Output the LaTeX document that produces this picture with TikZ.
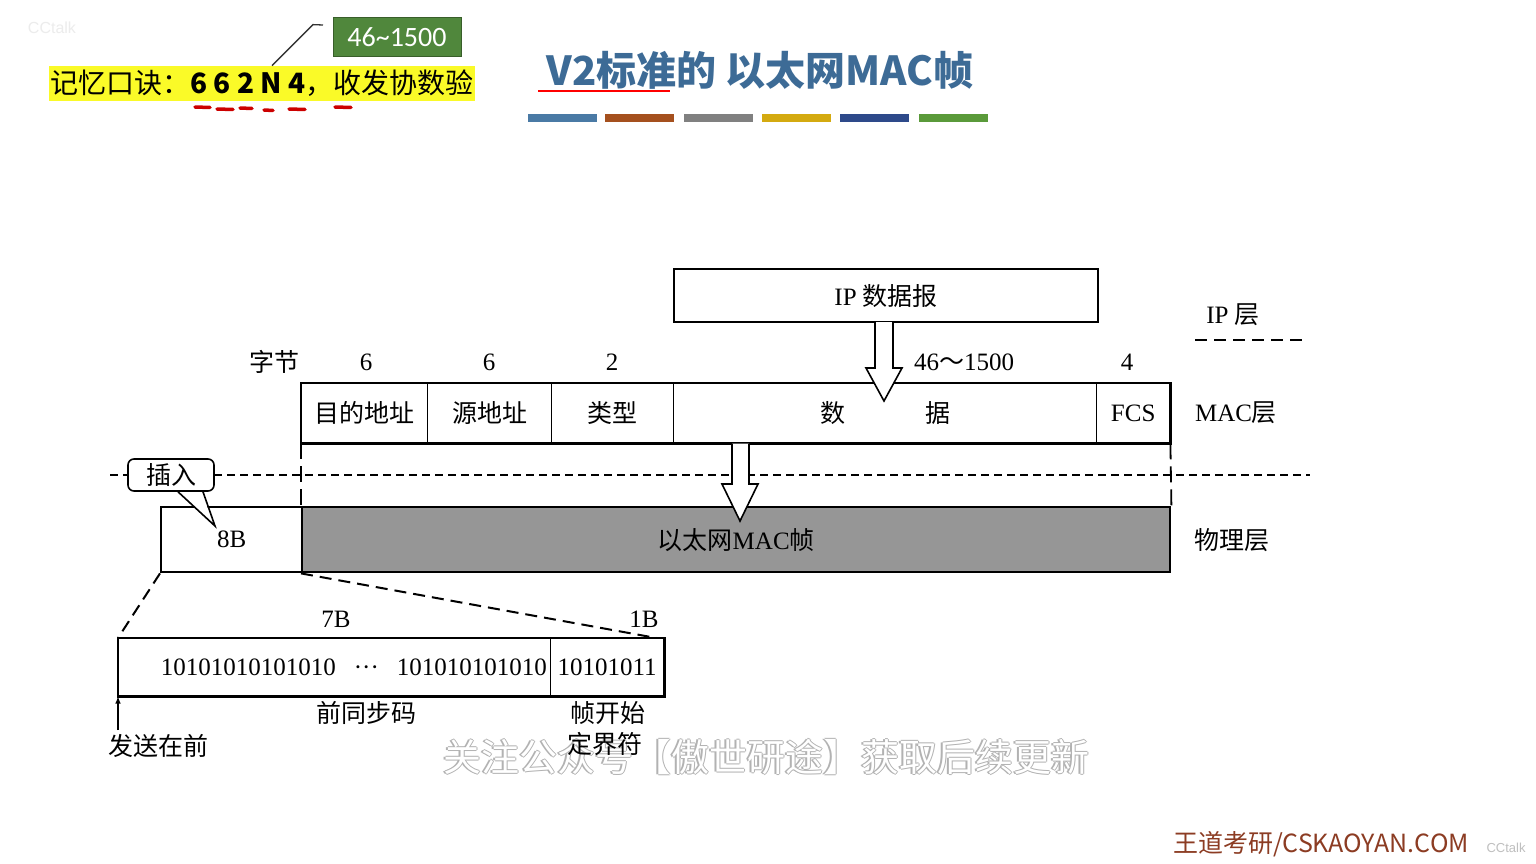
\documentclass[tikz,border=0pt]{standalone}
\usepackage{fontspec}
\setmainfont{Liberation Serif}
\setsansfont{Liberation Sans}
\newfontfamily\cjk{Noto Sans CJK SC}
\newfontfamily\calib{Carlito}
\usepackage{tikz}
\usetikzlibrary{arrows}
\usepackage{xcolor}
\tikzset{every picture/.style={line width=0.75pt}}

\definecolor{hiyellow}{RGB}{250,250,40}
\definecolor{boxgreen}{RGB}{80,135,60}
\definecolor{titleblue}{RGB}{61,107,150}
\definecolor{barA}{RGB}{74,122,165}
\definecolor{barB}{RGB}{165,80,30}
\definecolor{barC}{RGB}{128,128,128}
\definecolor{barD}{RGB}{212,170,16}
\definecolor{barE}{RGB}{46,74,138}
\definecolor{barF}{RGB}{90,154,58}
\definecolor{framegray}{RGB}{150,150,150}
\definecolor{footbrown}{RGB}{140,60,35}
\newcommand{\fsz}[1]{\fontsize{#1}{#1}\selectfont}

\begin{document}
\begin{tikzpicture}[x=1pt,y=1pt,yscale=-1,xscale=1,font=\fsz{25},inner sep=0.75pt,
  cell/.style={draw, line width=1.4pt, anchor=north west, inner sep=0pt},
  hollow/.style={draw, fill=white, line width=1.6pt, line join=miter},
  layerdash/.style={line width=2pt, dash pattern={on 8pt off 5pt}},
  guide/.style={line width=1.8pt, dash pattern={on 16pt off 7pt}},
  zoomline/.style={line width=2pt, dash pattern={on 12pt off 7pt}},
  squig/.style={red!80!black, line width=3.5pt, line cap=round},
  wm/.style={font=\cjk\fsz{38}}]
\useasboundingbox (0,0) rectangle (1536,864);
\fill[white] (0,0) rectangle (1536,864);

% Text Node
\node[font=\sffamily\fsz{16}, text=gray!15] (cctop) at (52,28) {CCtalk};
% Text Node
\node[fill=hiyellow, inner xsep=1pt, inner ysep=0pt, minimum height=35, font=\cjk\fsz{28}] (mnem) at (262,83.5) {记忆口诀：{\bfseries 6 6 2 N 4}，收发协数验};
% Text Node
\node[fill=boxgreen, draw=boxgreen!70!black, line width=1pt, minimum width=128, minimum height=39, text=white, font=\calib\fsz{28}] (range) at (397,37.5) {46\textasciitilde1500};
%Straight Lines
\coordinate (ldr) at (323,25);
\draw[line width=1.3pt, black!80] ([xshift=10pt]mnem.north) -- ++(41,-41) -- (ldr);
%Red marks
\draw[squig] (195,107) -- (210,107.5);
\draw[squig] (217,109) -- (233,109.5);
\draw[squig] (240,108) -- (252,108.5);
\draw[squig] (264,110) -- (273,110.5);
\draw[squig] (289,109) -- (305,109.5);
\draw[squig] (335,107) -- (351,107.5);

% Title
\node[font=\cjk\bfseries\fsz{40}, text=titleblue] (title) at (760,70) {V2标准的 以太网MAC帧};
\draw[red, line width=2pt] (538,91) -- (670,91);
% Colour bars
\fill[barA] (528,114) rectangle (597,122);
\fill[barB] (605,114) rectangle (674,122);
\fill[barC] (684,114) rectangle (753,122);
\fill[barD] (762,114) rectangle (831,122);
\fill[barE] (840,114) rectangle (909,122);
\fill[barF] (919,114) rectangle (988,122);

% Watermark
\node[wm, text=gray!60] (wm1) at (764.7,757) {关注公众号【傲世研途】获取后续更新};
\node[wm, text=gray!60] (wm2) at (767.3,757) {关注公众号【傲世研途】获取后续更新};
\node[wm, text=gray!60] (wm3) at (766,755.7) {关注公众号【傲世研途】获取后续更新};
\node[wm, text=gray!60] (wm4) at (766,758.3) {关注公众号【傲世研途】获取后续更新};
\node[wm, text=white] (wm5) at (766,757) {关注公众号【傲世研途】获取后续更新};

% IP datagram
\node[cell, line width=2.4pt, minimum width=424, minimum height=53] (ipdg) at (673,268) {IP {\cjk 数据报}};

% MAC frame fields
\node[cell, minimum width=126, minimum height=59] (fdst) at (301,383) {\cjk 目的地址};
\node[cell, minimum width=124, minimum height=59] (fsrc) at (427,383) {\cjk 源地址};
\node[cell, minimum width=122, minimum height=59] (ftype) at (551,383) {\cjk 类型};
\node[cell, minimum width=423, minimum height=59] (fdata) at (673,383) {\cjk 数\hspace{80pt}据};
\node[cell, minimum width=73, minimum height=59] (ffcs) at (1096,383) {FCS};
\draw[line width=2.4pt] (fdst.north west) rectangle (ffcs.south east);

% Text Node
\node (bytes) at (274,362) {\cjk 字节};
\node (ndst) at (366,362) {6};
\node (nsrc) at (489,362) {6};
\node (ntype) at (612,362) {2};
\node (ndata) at (964,362) {46{\cjk ～}1500};
\node (nfcs) at (1127,362) {4};

% Layer names
\node (lip) at (1233,315) {IP {\cjk 层}};
\draw[line width=2.2pt, dash pattern={on 12pt off 7pt}] (1195,340) -- (1302,340);
\node (lmac) at (1236,413) {MAC{\cjk 层}};
\node (lphy) at (1232,540) {\cjk 物理层};

% hollow arrow down to data
\filldraw[hollow] (875,322) -- (875,368) -- (866,368) -- (884,401) -- (902,368) -- (893,368) -- (893,322);

% physical layer
\draw[layerdash] (110,475) -- (1310,475);
\node[cell, line width=2.4pt, minimum width=141, minimum height=65] (pre8) at (160,506) {8B};
\node[cell, line width=2.4pt, minimum width=868, minimum height=65, fill=framegray] (macfr) at (301,506) {{\cjk 以太网}MAC{\cjk 帧}};
\draw[guide] (fdst.south west) -- (macfr.north west);
\draw[guide] (ffcs.south east) -- (macfr.north east);

% hollow arrow down to frame
\filldraw[hollow] (732,443.5) -- (732,484) -- (722,484) -- (740,521) -- (758,484) -- (749,484) -- (749,443.5);

% callout
\node[draw, line width=1.6pt, rounded corners=6pt, fill=white, minimum width=86, minimum height=32, inner sep=0pt] (ins) at (171,475) {\cjk 插入};
\coordinate (instip) at (215,526);
\fill[white] ([xshift=8pt,yshift=1.5pt]ins.south) -- (instip) -- ([xshift=31pt,yshift=1.5pt]ins.south) -- cycle;
\draw[line width=1.6pt, line join=miter] ([xshift=7pt]ins.south) -- (instip) -- ([xshift=32pt]ins.south);

% preamble
\node[cell, minimum width=432, minimum height=57] (sync) at (118,638) {};
\node[cell, minimum width=113, minimum height=57] (sfd) at (550,638) {10101011};
\draw[line width=2.4pt] (sync.north west) rectangle (sfd.south east);
\node[anchor=east] (bits) at (548,667) {10101010101010\hspace{18pt}···\hspace{18pt}101010101010};
\draw[zoomline] (pre8.south west) -- (sync.north west);
\draw[zoomline] (macfr.south west) -- ([xshift=-8pt]sfd.north east);

% Text Node
\node (b7) at (336,619) {7B};
\node (b1) at (644,619) {1B};
\node (lsync) at (366,713) {\cjk 前同步码};
\node (lsfd1) at (608,713) {\cjk 帧开始};
\node (lsfd2) at (605,744) {\cjk 定界符};
\node (lsend) at (158,746) {\cjk 发送在前};
\coordinate (sendtail) at (118,730);
\draw[-latex, line width=1.5pt] (sendtail) -- (sync.south west);

% Footer
\node[font=\cjk\fsz{25}, text=footbrown] (foot) at (1321,844) {王道考研/CSKAOYAN.COM};
\node[font=\sffamily\fsz{13}, text=gray!50] (ccbot) at (1506,848) {CCtalk};
\end{tikzpicture}
\end{document}
